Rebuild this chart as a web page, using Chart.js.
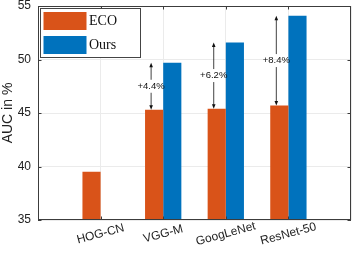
<!DOCTYPE html>
<html>
<head>
<meta charset="utf-8">
<script src="https://cdn.jsdelivr.net/npm/chart.js@4"></script>
<style>
  html, body { margin: 0; padding: 0; background: #fff; }
  canvas { display: block; }
</style>
</head>
<body>
<canvas id="auc" width="359" height="256"></canvas>
<script>
// ---- data ----
const categories = ["HOG-CN", "VGG-M", "GoogLeNet", "ResNet-50"];
const ecoValues = [39.5, 45.3, 45.4, 45.7];
const oursValues = [null, 49.7, 51.6, 54.1];
const yTicks = [35, 40, 45, 50, 55];
const seriesNames = ["ECO", "Ours"];

const ECO_COLOR = "#D95319";
const OURS_COLOR = "#0072BD";
const AXIS_COLOR = "#3c3c3c";
const GRID_COLOR = "#ebebeb";

// empty slot at both ends, so the axis runs 0..5 like the matlab figure
const axisLabels = ["", ...categories, ""];
const pad = arr => [null, ...arr, null];

// ---- box, ticks, x labels, arrows, legend ----
const decorPlugin = {
  id: "decor",
  afterDatasetsDraw(chart) {
    const { ctx, chartArea: a, scales } = chart;
    const xs = scales.x, ys = scales.y;
    ctx.save();

    // gain arrows
    const ecoMeta = chart.getDatasetMeta(0);
    ctx.strokeStyle = "#111";
    ctx.fillStyle = "#111";
    ctx.lineWidth = 0.8;
    ctx.font = "9.5px 'Liberation Sans', Arial, sans-serif";
    ctx.textAlign = "center";
    ctx.textBaseline = "middle";
    categories.forEach((c, i) => {
      if (oursValues[i] == null) return;
      const x = ecoMeta.data[i + 1].x - 3;
      const yTop = ys.getPixelForValue(oursValues[i]);
      const yBot = ys.getPixelForValue(ecoValues[i]);
      const yMid = (yTop + yBot) / 2;
      ctx.beginPath();
      ctx.moveTo(x, yTop + 3); ctx.lineTo(x, yMid - 6.5);
      ctx.moveTo(x, yMid + 6.5); ctx.lineTo(x, yBot - 3);
      ctx.stroke();
      ctx.beginPath();
      ctx.moveTo(x, yTop); ctx.lineTo(x - 1.8, yTop + 4.5); ctx.lineTo(x + 1.8, yTop + 4.5);
      ctx.closePath(); ctx.fill();
      ctx.beginPath();
      ctx.moveTo(x, yBot); ctx.lineTo(x - 1.8, yBot - 4.5); ctx.lineTo(x + 1.8, yBot - 4.5);
      ctx.closePath(); ctx.fill();
      const gain = "+" + (oursValues[i] - ecoValues[i]).toFixed(1) + "%";
      ctx.fillText(gain, x, yMid);
    });

    // axes box + inner ticks
    ctx.strokeStyle = AXIS_COLOR;
    ctx.lineWidth = 1;
    ctx.strokeRect(a.left + 0.5, a.top + 0.5, a.right - a.left - 1, a.bottom - a.top - 1);
    ctx.beginPath();
    yTicks.forEach(v => {
      const y = Math.round(ys.getPixelForValue(v)) + 0.5;
      ctx.moveTo(a.left, y); ctx.lineTo(a.left + 3.5, y);
      ctx.moveTo(a.right, y); ctx.lineTo(a.right - 3.5, y);
    });
    categories.forEach((c, i) => {
      const x = Math.round(xs.getPixelForValue(i + 1)) + 0.5;
      ctx.moveTo(x, a.bottom); ctx.lineTo(x, a.bottom - 3.5);
      ctx.moveTo(x, a.top); ctx.lineTo(x, a.top + 3.5);
    });
    ctx.stroke();

    // rotated category labels
    ctx.fillStyle = "#222";
    ctx.font = "12px 'Liberation Sans', Arial, sans-serif";
    ctx.textAlign = "center";
    ctx.textBaseline = "middle";
    categories.forEach((c, i) => {
      const x = xs.getPixelForValue(i + 1);
      ctx.save();
      ctx.translate(x, a.bottom + 14);
      ctx.rotate(-15 * Math.PI / 180);
      ctx.fillText(c, 0, 0);
      ctx.restore();
    });

    // legend
    const lx = a.left + 2, ly = a.top + 2;
    ctx.fillStyle = "#fff";
    ctx.fillRect(lx, ly, 101, 50);
    ctx.strokeStyle = "#444";
    ctx.strokeRect(lx + 0.5, ly + 0.5, 100, 49);
    const swatches = [ECO_COLOR, OURS_COLOR];
    ctx.font = "14px 'Liberation Serif', 'Times New Roman', serif";
    ctx.textAlign = "left";
    seriesNames.forEach((name, k) => {
      const top = ly + 4 + k * 24;
      ctx.fillStyle = swatches[k];
      ctx.fillRect(lx + 3.5, top, 43, 18);
      ctx.fillStyle = "#111";
      ctx.fillText(name, lx + 49, top + 9);
    });

    ctx.restore();
  }
};

const chart = new Chart(document.getElementById("auc"), {
  type: "bar",
  data: {
    labels: axisLabels,
    datasets: [
      { label: seriesNames[0], data: pad(ecoValues), backgroundColor: ECO_COLOR },
      { label: seriesNames[1], data: pad(oursValues), backgroundColor: OURS_COLOR }
    ]
  },
  options: {
    responsive: false,
    animation: false,
    events: [],
    layout: { padding: { top: 0, right: 8, left: 0, bottom: 0 } },
    datasets: { bar: { categoryPercentage: 0.58, barPercentage: 1 } },
    plugins: { legend: { display: false }, tooltip: { enabled: false } },
    scales: {
      x: {
        type: "category",
        offset: false,
        grid: { offset: false, color: GRID_COLOR, drawTicks: false },
        border: { display: false },
        ticks: { display: false },
        afterFit: s => { s.height = 36; }
      },
      y: {
        min: 35,
        max: 55,
        afterBuildTicks: s => { s.ticks = yTicks.map(v => ({ value: v })); },
        grid: { color: GRID_COLOR, drawTicks: false },
        border: { display: false },
        ticks: {
          padding: 7,
          color: "#222",
          font: { family: "'Liberation Sans', Arial, sans-serif", size: 12, lineHeight: 1 }
        },
        title: {
          display: true,
          text: "AUC in %",
          color: "#222",
          padding: 0,
          font: { family: "'Liberation Sans', Arial, sans-serif", size: 14 }
        },
        afterFit: s => { s.width = 38; s.paddingTop = 6; s.paddingBottom = 0; }
      }
    }
  },
  plugins: [decorPlugin]
});
</script>
</body>
</html>
